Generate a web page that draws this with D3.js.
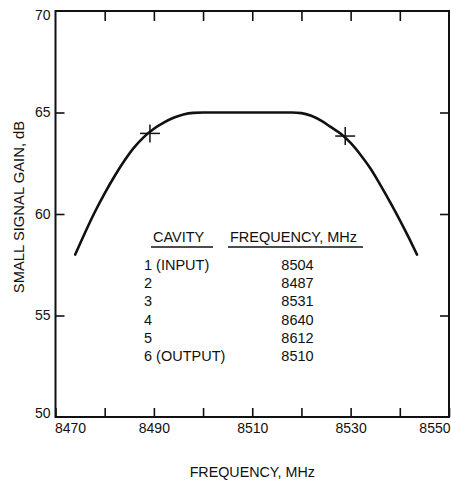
<!DOCTYPE html>
<html>
<head>
<meta charset="utf-8">
<script src="https://cdn.jsdelivr.net/npm/d3@7"></script>
<style>
  html, body { margin: 0; padding: 0; background: #fff; }
  svg { display: block; font-family: "Liberation Sans", Arial, Helvetica, sans-serif; }
</style>
</head>
<body>
<svg id="chart" width="451" height="481"></svg>
<script>
// ---- data ----
const freq = [8474, 8476, 8478, 8480, 8482, 8484, 8486, 8488, 8490, 8492, 8494, 8496, 8498, 8500,
              8510, 8518, 8520, 8522, 8524, 8526, 8528, 8530, 8532, 8534, 8536, 8538, 8540, 8542, 8543.5];
const gain = [58.0, 59.08, 60.1, 61.02, 61.86, 62.62, 63.28, 63.8, 64.2, 64.5, 64.74, 64.9, 64.98, 65.0,
              65.0, 65.0, 64.97, 64.84, 64.6, 64.28, 63.95, 63.5, 62.92, 62.25, 61.45, 60.6, 59.7, 58.75, 58.0];
const markerFreq = [8489.2, 8528.9];
const markerGain = [63.97, 63.84];
const xTicks = [8470, 8480, 8490, 8500, 8510, 8520, 8530, 8540, 8550];
const xTickLabels = ["8470", "", "8490", "", "8510", "", "8530", "", "8550"];
const yTicks = [50, 55, 60, 65, 70];
const yTickLabels = ["50", "55", "60", "65", "70"];
const cavities = ["1 (INPUT)", "2", "3", "4", "5", "6 (OUTPUT)"];
const cavityFreqs = [8504, 8487, 8531, 8640, 8612, 8510];
const xTitle = "FREQUENCY, MHz";
const yTitle = "SMALL SIGNAL GAIN, dB";
const legendHeaders = ["CAVITY", "FREQUENCY, MHz"];

// ---- layout ----
const L = 55.5, R = 449, T = 11, B = 417;
const svg = d3.select("#chart");
const x = d3.scaleLinear().domain([8470, 8550]).range([L, R]);
const y = d3.scaleLinear().domain([50, 70]).range([B, T]);

// frame
svg.append("rect").attr("x", L).attr("y", T).attr("width", R - L).attr("height", B - T)
  .attr("fill", "none").attr("stroke", "#111").attr("stroke-width", 2);

// bottom axis (ticks inward)
const gx = svg.append("g").attr("transform", `translate(0,${B})`)
  .call(d3.axisBottom(x).tickValues(xTicks).tickSizeInner(-9).tickSizeOuter(0).tickPadding(6)
    .tickFormat((d, i) => xTickLabels[i]));
gx.select(".domain").remove();
gx.selectAll("line").attr("stroke", "#111").attr("stroke-width", 1.6);
gx.selectAll("text").attr("font-size", 14).attr("fill", "#111").attr("font-family", null);
gx.selectAll(".tick text").filter(d => d === 8470).attr("text-anchor", "start").attr("dx", -1);
gx.selectAll(".tick text").filter(d => d === 8550).attr("text-anchor", "end").attr("dx", 1);

// top axis (ticks inward, no labels)
const gt = svg.append("g").attr("transform", `translate(0,${T})`)
  .call(d3.axisTop(x).tickValues(xTicks.slice(1, -1)).tickSizeInner(-10).tickSizeOuter(0).tickFormat(""));
gt.select(".domain").remove();
gt.selectAll("line").attr("stroke", "#111").attr("stroke-width", 1.6);

// left axis
const gy = svg.append("g").attr("transform", `translate(${L},0)`)
  .call(d3.axisLeft(y).tickValues(yTicks).tickSizeInner(-9).tickSizeOuter(0).tickPadding(5)
    .tickFormat((d, i) => yTickLabels[i]));
gy.select(".domain").remove();
gy.selectAll("line").attr("stroke", "#111").attr("stroke-width", 1.6);
gy.selectAll("text").attr("font-size", 14).attr("fill", "#111").attr("font-family", null);
gy.selectAll(".tick").filter(d => d === 70 || d === 50).select("line").remove();
gy.selectAll(".tick text").filter(d => d === 70).attr("dy", "0.75em").attr("y", -2);
gy.selectAll(".tick text").filter(d => d === 50).attr("dy", "0em").attr("y", 0);

// right axis
const gr = svg.append("g").attr("transform", `translate(${R},0)`)
  .call(d3.axisRight(y).tickValues(yTicks.slice(1, -1)).tickSizeInner(-9).tickSizeOuter(0).tickFormat(""));
gr.select(".domain").remove();
gr.selectAll("line").attr("stroke", "#111").attr("stroke-width", 1.6);

// curve
const pts = freq.map((f, i) => [f, gain[i]]);
const line = d3.line().x(d => x(d[0])).y(d => y(d[1])).curve(d3.curveMonotoneX);
svg.append("path").datum(pts).attr("d", line)
  .attr("fill", "none").attr("stroke", "#111").attr("stroke-width", 2.6).attr("stroke-linecap", "round");

// plus markers
const mk = markerFreq.map((f, i) => [f, markerGain[i]]);
const mg = svg.append("g").selectAll("g").data(mk).join("g")
  .attr("transform", d => `translate(${x(d[0])},${y(d[1])})`);
mg.append("line").attr("x1", -10).attr("x2", 10).attr("y1", 0).attr("y2", 0)
  .attr("stroke", "#111").attr("stroke-width", 1.5);
mg.append("line").attr("x1", 0).attr("x2", 0).attr("y1", -9).attr("y2", 9)
  .attr("stroke", "#111").attr("stroke-width", 1.5);

// axis titles
svg.append("text").attr("x", (L + R) / 2).attr("y", 477).attr("text-anchor", "middle")
  .attr("font-size", 14.3).attr("fill", "#111").text(xTitle);
svg.append("text").attr("transform", "translate(24,207) rotate(-90)").attr("text-anchor", "middle")
  .attr("font-size", 14.8).attr("fill", "#111").text(yTitle);

// legend table
const fs = 14.5;
const hdrY = 242;
svg.append("text").attr("x", 153).attr("y", hdrY).attr("font-size", fs).attr("fill", "#111").text(legendHeaders[0]);
svg.append("text").attr("x", 230).attr("y", hdrY).attr("font-size", fs).attr("fill", "#111").text(legendHeaders[1]);
svg.append("line").attr("x1", 151).attr("x2", 213).attr("y1", 247).attr("y2", 247).attr("stroke", "#111").attr("stroke-width", 1.5);
svg.append("line").attr("x1", 228).attr("x2", 363).attr("y1", 247).attr("y2", 247).attr("stroke", "#111").attr("stroke-width", 1.5);
const rowY = d3.scaleLinear().domain([0, 5]).range([270, 361]);
svg.append("g").selectAll("text").data(cavities).join("text")
  .attr("x", 144).attr("y", (d, i) => rowY(i)).attr("font-size", fs).attr("fill", "#111").text(d => d);
svg.append("g").selectAll("text").data(cavityFreqs).join("text")
  .attr("x", 297.5).attr("y", (d, i) => rowY(i)).attr("text-anchor", "middle")
  .attr("font-size", fs).attr("fill", "#111").text(d => d);
</script>
</body>
</html>
